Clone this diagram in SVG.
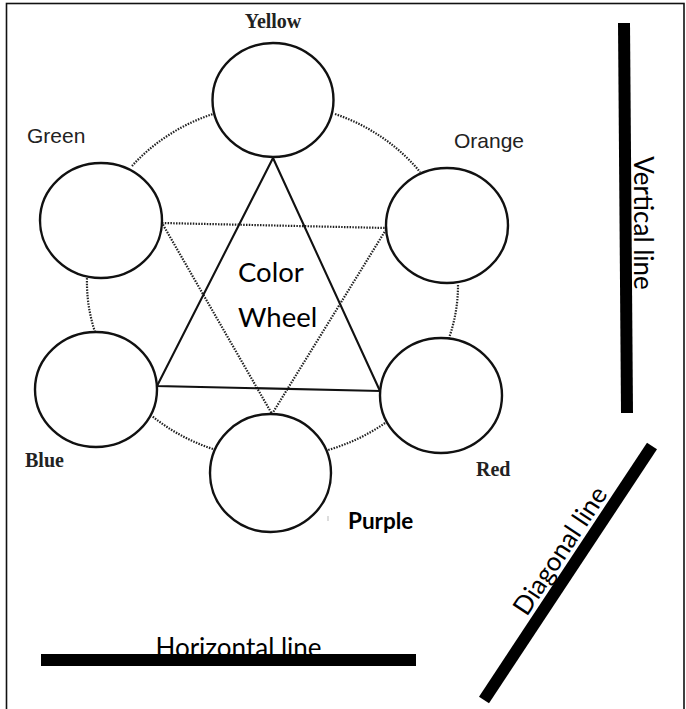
<svg xmlns="http://www.w3.org/2000/svg" width="686" height="709" viewBox="0 0 686 709">
<style>
.bg{fill:#fff}
.frame{fill:none;stroke:#111;stroke-width:1.6}
.node{fill:#fff;stroke:#111;stroke-width:2.4}
.solid{fill:none;stroke:#111;stroke-width:2.1;stroke-linejoin:miter}
.dot{fill:none;stroke:#222;stroke-width:2.2;stroke-dasharray:1.5 1.3}
.serif{font-family:"Liberation Serif","Times New Roman",serif;font-weight:bold;font-size:20px;fill:#222}
.sans{font-family:"Liberation Sans",Arial,sans-serif;font-size:21px;fill:#222}
.cal{font-family:Lato,"Open Sans",sans-serif;font-size:26px;fill:#000}
.bar{fill:#000;stroke:none}
</style>
<rect class="bg" x="0" y="0" width="686" height="709"/>
<rect class="frame" x="6.5" y="3.5" width="677.5" height="720"/>

<g id="connectors">
  <path class="dot" d="M335 114 A187 172 0 0 1 420 172"/>
  <path class="dot" d="M458 285 A187 172 0 0 1 449 338"/>
  <path class="dot" d="M385 423 A187 172 0 0 1 328 450"/>
  <path class="dot" d="M213 449 A187 172 0 0 1 152 416"/>
  <path class="dot" d="M95 332 A187 172 0 0 1 87 278"/>
  <path class="dot" d="M132 166 A187 172 0 0 1 213 114"/>
  <path class="dot" d="M162 223 L387 228 L272 414 Z"/>
  <path class="solid" d="M273 158 L157 386 L380 391 Z"/>
</g>

<g id="yellow">
  <ellipse class="node" cx="273" cy="100" rx="60.5" ry="57"/>
  <text class="serif" x="273" y="28" text-anchor="middle">Yellow</text>
</g>
<g id="orange">
  <ellipse class="node" cx="447" cy="225.5" rx="61" ry="57.5"/>
  <text class="sans" x="454" y="148">Orange</text>
</g>
<g id="red">
  <ellipse class="node" cx="441" cy="395.5" rx="61" ry="57.5"/>
  <text class="serif" x="476" y="476">Red</text>
</g>
<g id="purple">
  <ellipse class="node" cx="270.5" cy="473" rx="60.5" ry="59"/>
  <text class="cal" x="348" y="529" style="font-weight:bold;font-size:22.5px">Purple</text>
  <line x1="328" y1="516" x2="328" y2="521" stroke="#bbb" stroke-width="1"/>
</g>
<g id="blue">
  <ellipse class="node" cx="96" cy="389.5" rx="61" ry="57.5"/>
  <text class="serif" x="25" y="467">Blue</text>
</g>
<g id="green">
  <ellipse class="node" cx="101" cy="220.5" rx="61" ry="57.5"/>
  <text class="sans" x="27" y="143">Green</text>
</g>
<g id="title">
  <text class="cal" x="238" y="282" style="font-size:27.5px">Color</text>
  <text class="cal" x="238" y="327" style="font-size:27.5px">Wheel</text>
</g>

<g id="vertical-line">
  <polygon class="bar" points="618,23 630,23 633,413 621,413"/>
  <text class="cal" x="634" y="223" text-anchor="middle" transform="rotate(90 634 223)">Vertical line</text>
</g>
<g id="horizontal-line">
  <text class="cal" x="238.5" y="656.5" text-anchor="middle">Horizontal line</text>
  <rect class="bar" x="41" y="654" width="375" height="12"/>
</g>
<g id="diagonal-line">
  <text class="cal" x="567.6" y="555.6" text-anchor="middle" transform="rotate(-56.5 567.6 555.6)">Diagonal line</text>
  <line x1="652" y1="446" x2="484" y2="700" stroke="#000" stroke-width="12"/>
</g>
</svg>
